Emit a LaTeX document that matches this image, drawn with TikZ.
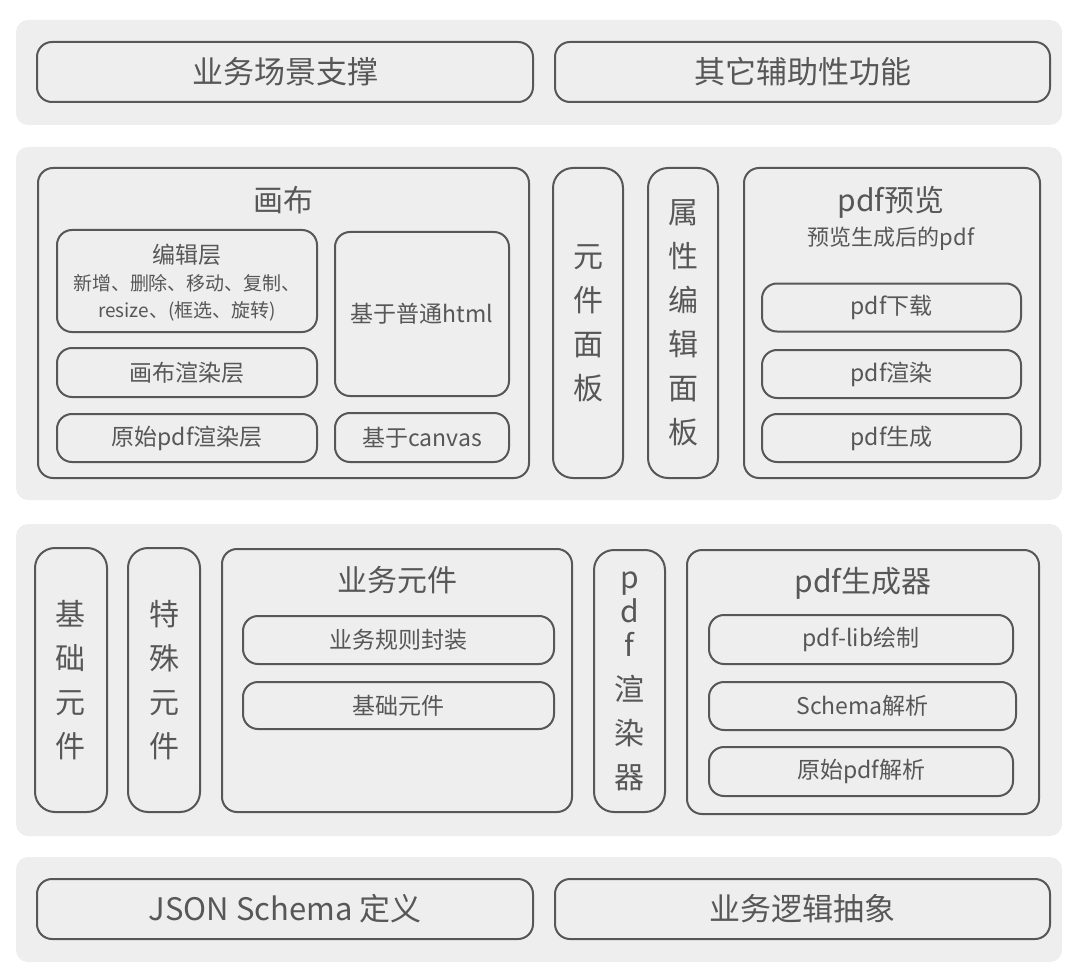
\documentclass[tikz,border=0pt]{standalone}
\usepackage{fontspec}
\setmainfont{Noto Sans CJK SC}
\usepackage{tikz}
\usetikzlibrary{calc}
\definecolor{bandgray}{HTML}{EEEEEE}
\definecolor{inkgray}{HTML}{575757}
\def\rowsep{44pt}
\tikzset{
	every node/.style={
		text=inkgray,
		inner sep=0pt
	},
	size/.style 2 args={
		minimum width=#1pt,
		minimum height=#2pt
	},
	band/.style={
		shape=rectangle,
		fill=bandgray,
		rounded corners=12pt
	},
	box/.style={
		shape=rectangle,
		draw=inkgray,
		line width=2pt,
		rounded corners=15pt,
		font=\fontsize{23}{28}\selectfont
	},
	bigbox/.style={
		box,
		font=\fontsize{31}{37}\selectfont
	},
	vbox/.style={
		box,
		rounded corners=20pt,
		align=center,
		font=\fontsize{30}{44}\selectfont
	},
	title/.style={
		font=\fontsize{30}{36}\selectfont
	},
	subtitle/.style={
		font=\fontsize{22}{27}\selectfont,
		align=center
	},
	small/.style={
		font=\fontsize{19}{27}\selectfont,
		align=center
	}
}

\begin{document}
\begin{tikzpicture}[x=1pt,y=-1pt]
	\useasboundingbox (0,0) rectangle (1080,979);
	
	% layers
	\node[band, size={1046}{105}] (top) at (539,72.5) {};
	\node[band, size={1046}{353}] (ui) at (539,323.5) {};
	\node[band, size={1046}{312}] (core) at (539,680) {};
	\node[band, size={1046}{105}] (base) at (539,909.5) {};
	
	% top layer
	\node[bigbox, size={496}{60}] (scene) at (285,72) {业务场景支撑};
	\node[bigbox, size={495}{60}] (aux) at (802.5,72) {其它辅助性功能};
	
	% canvas
	\node[box, size={491}{310}] (canvas) at (283.5,323) {};
	\node[title] (canvas-t) at (283,200) {画布};
	\node[box, size={260}{102}] (edit) at (187,281) {};
	\node[subtitle, font=\fontsize{23}{28}\selectfont] (edit-t) at (187,255) {编辑层};
	\node[small] (edit-d) at (187,298) {新增、删除、移动、复制、\\resize、(框选、旋转)};
	\node[box, size={174}{164}] (html) at (422,314) {基于普通html};
	\node[box, size={260}{49}] (render) at (187,372.5) {画布渲染层};
	\node[box, size={260}{48}] (rawrender) at (187,438) {原始pdf渲染层};
	\node[box, size={174}{49}] (canvasimpl) at (422,437.5) {基于canvas};
	
	% panels
	\node[vbox, size={70}{310}] (parts) at (588,323) {元\\件\\面\\板};
	\node[vbox, size={70}{310}] (props) at (683,323) {属\\性\\编\\辑\\面\\板};
	
	% preview
	\node[box, size={296}{310}] (preview) at (892,323) {};
	\node[title] (preview-t) at (891,202) {pdf预览};
	\node[subtitle] (preview-d) at (891,239) {预览生成后的pdf};
	\foreach \name/\y/\txt in {down/307.5/pdf下载, show/374/pdf渲染, make/438/pdf生成}
	\node[box, size={259}{48}] (preview-\name) at (891.5,\y) {\txt};
	
	% core layer
	\node[vbox, size={72}{264}] (basic) at (71,680) {基\\础\\元\\件};
	\node[vbox, size={72}{264}] (special) at (164,680) {特\\殊\\元\\件};
	\node[box, size={350}{263}] (biz) at (397,680.5) {};
	\node[title] (biz-t) at (397,580) {业务元件};
	\node[box, size={311}{48}] (biz-rule) at (398.5,640) {业务规则封装};
	\node[box, size={311}{47}] (biz-basic) at (398.5,705.5) {基础元件};
	\node[vbox, size={71}{262}] (renderer) at (629.5,681) {p\\[-10pt]d\\[-10pt]f\\渲\\染\\器};
	\node[box, size={352}{264}] (gen) at (863,682) {};
	\node[title] (gen-t) at (863,583) {pdf生成器};
	\node[box, size={304}{49}] (gen-lib) at (861,639.5) {pdf-lib绘制};
	\node[box, size={307}{48}] (gen-schema) at (862.5,706) {Schema解析};
	\node[box, size={304}{49}] (gen-raw) at (861,771.5) {原始pdf解析};
	
	% base layer
	\node[bigbox, size={496}{60}] (json) at (285,909) {JSON Schema 定义};
	\node[bigbox, size={495}{60}] (logic) at (802.5,909) {业务逻辑抽象};
\end{tikzpicture}
\end{document}
